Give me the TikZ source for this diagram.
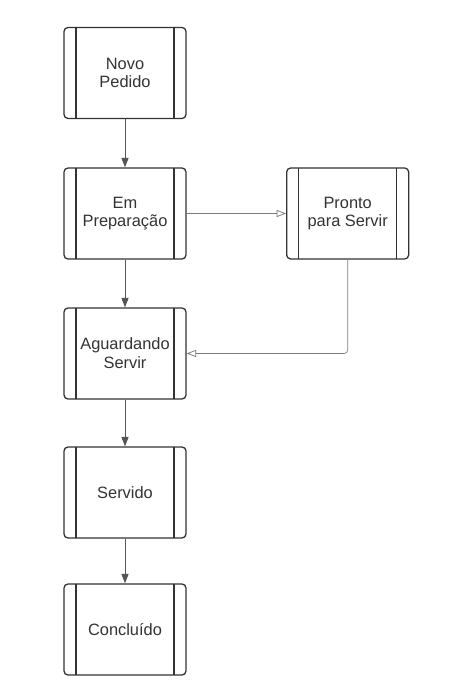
\documentclass[tikz,border=0pt]{standalone}
\usepackage{fontspec}
\setmainfont{Liberation Sans}
\usetikzlibrary{arrows.meta, positioning}
\definecolor{FlowDark}{HTML}{333333}
\definecolor{FlowGray}{HTML}{555555}
\definecolor{FlowLight}{HTML}{7A7A7A}
\definecolor{FlowWhite}{HTML}{ffffff}
\colorlet{StateBorder}{FlowDark}
\colorlet{StateText}{FlowDark}
\colorlet{MainArrow}{FlowGray}
\colorlet{SideArrow}{FlowLight}

\begin{document}
\begin{tikzpicture}[
    procbox/.style={draw=StateBorder, line width=1.1pt, fill=FlowWhite, rounded corners=0.12cm,
        minimum width=3.66cm, minimum height=2.73cm, text=StateText, align=center,
        font=\fontsize{14}{16}\selectfont,
        path picture={
            \draw[StateBorder, line width=1.1pt]
                ([xshift=0.36cm]path picture bounding box.north west) -- ([xshift=0.36cm]path picture bounding box.south west)
                ([xshift=-0.36cm]path picture bounding box.north east) -- ([xshift=-0.36cm]path picture bounding box.south east);
        }},
    mainarrow/.style={draw=MainArrow, line width=0.8pt, -{Triangle[length=8pt, width=6pt]}},
    sidearrow/.style={draw=SideArrow, line width=0.6pt, -{Triangle[open, length=8pt, width=6pt]}}
]

    % Page
    \useasboundingbox[fill=FlowWhite] (0,0) rectangle (13.68,20.82);

    % States
    \node[procbox] (novo) at (3.75,18.63) {Novo\\Pedido};
    \node[procbox] (preparo) at (3.75,14.415) {Em\\Preparação};
    \node[procbox] (pronto) at (10.43,14.415) {Pronto\\para Servir};
    \node[procbox] (aguardando) at (3.75,10.215) {Aguardando\\Servir};
    \node[procbox] (servido) at (3.75,6.045) {Servido};
    \node[procbox] (concluido) at (3.75,1.935) {Concluído};

    % Main flow
    \draw[mainarrow] (novo) -- (preparo);
    \draw[mainarrow] (preparo) -- (aguardando);
    \draw[mainarrow] (aguardando) -- (servido);
    \draw[mainarrow] (servido) -- (concluido);

    % Side flow
    \draw[sidearrow] (preparo) -- (pronto);
    \draw[sidearrow, rounded corners=0.1cm] (pronto.south) |- (aguardando.east);

\end{tikzpicture}
\end{document}
